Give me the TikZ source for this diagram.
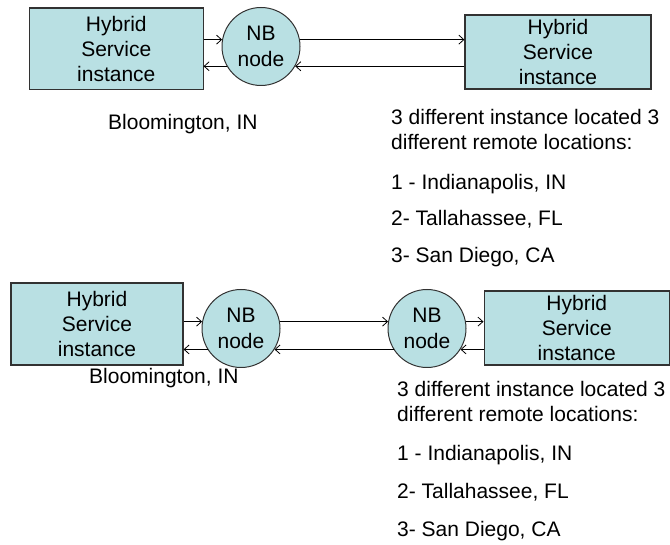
\documentclass[tikz,border=0pt]{standalone}
\usepackage{fontspec}
\setmainfont{Liberation Sans}
\usetikzlibrary{arrows.meta}
\definecolor{boxfill}{RGB}{185,224,227}
\definecolor{edgegray}{RGB}{50,50,50}
\tikzset{
  hybox/.style={draw=edgegray, line width=1.1pt, fill=boxfill, align=center, inner sep=0pt,
    font=\fontsize{21}{25}\selectfont},
  nbnode/.style={circle, draw=edgegray, line width=1pt, fill=boxfill, align=center, inner sep=0pt,
    minimum size=78pt, font=\fontsize{21}{26}\selectfont},
  link/.style={line width=0.8pt, -{Straight Barb[length=5pt,width=9pt,line width=0.8pt]}},
  lbl/.style={anchor=base west, inner sep=0pt, align=left, font=\fontsize{21}{25}\selectfont},
}
\begin{document}
\begin{tikzpicture}[x=1pt,y=-1pt]
\useasboundingbox (0,0) rectangle (670,545);
% ---------- top section ----------
\node[hybox, minimum width=173.5pt, minimum height=81.5pt] (b1) at (116.3,48.8) {Hybrid\\Service\\instance};
\node[nbnode] (c1) at (261,46.5) {NB\\node};
\node[hybox, minimum width=186pt, minimum height=74pt] (b2) at (558,52) {Hybrid\\Service\\instance};
\draw[link] (b1.east |- c1.170) -- (c1.170);
\draw[link] (c1.210) -- (b1.east |- c1.210);
\draw[link] (c1.10) -- (b2.west |- c1.10);
\draw[link] (b2.west |- c1.-30) -- (c1.-30);
\node[lbl] (t1) at (108,129.5) {Bloomington, IN};
\node[lbl] (t2) at (391,149.5) {3 different instance located 3\\different remote locations:};
\node[lbl] (t3) at (391,189.5) {1 - Indianapolis, IN};
\node[lbl] (t4) at (391,225.5) {2- Tallahassee, FL};
\node[lbl] (t5) at (391,262.5) {3- San Diego, CA};
% ---------- bottom section ----------
\node[hybox, minimum width=172pt, minimum height=82pt] (b3) at (97,324) {Hybrid\\Service\\instance};
\node[nbnode] (c3) at (241,328.5) {NB\\node};
\node[nbnode] (c4) at (427,328.5) {NB\\node};
\node[hybox, minimum width=185.5pt, minimum height=74pt] (b4) at (576.8,328) {Hybrid\\Service\\instance};
\draw[link] (b3.east |- c3.170) -- (c3.170);
\draw[link] (c3.212) -- (b3.east |- c3.212);
\draw[link] (c3.10) -- (c4.170);
\draw[link] (c4.212) -- (c3.-32);
\draw[link] (c4.10) -- (b4.west |- c4.10);
\draw[link] (b4.west |- c4.-32) -- (c4.-32);
\node[lbl] (u1) at (89,383.5) {Bloomington, IN};
\node[lbl] (u2) at (397,421.5) {3 different instance located 3\\different remote locations:};
\node[lbl] (u3) at (397,460.5) {1 - Indianapolis, IN};
\node[lbl] (u4) at (397,498.5) {2- Tallahassee, FL};
\node[lbl] (u5) at (397,536.5) {3- San Diego, CA};
\end{tikzpicture}
\end{document}
